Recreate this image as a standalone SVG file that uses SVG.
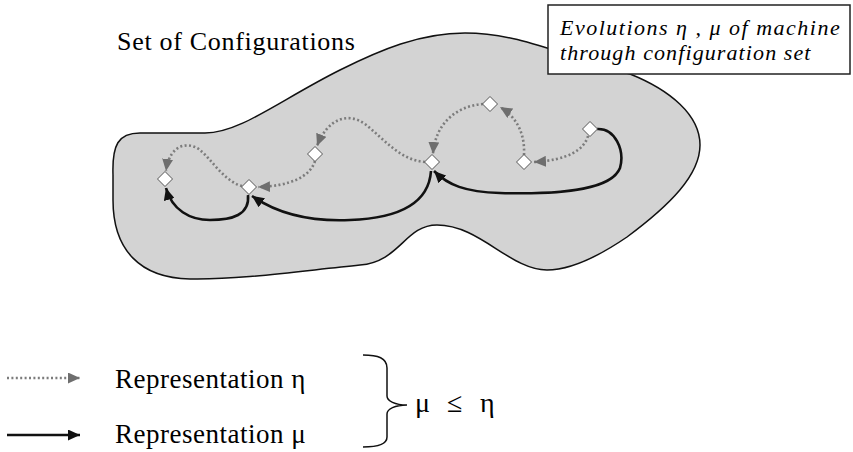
<svg xmlns="http://www.w3.org/2000/svg" width="853" height="452" viewBox="0 0 853 452">
<style>
.eta{fill:none;stroke:#7c7c7c;stroke-width:2.6;stroke-dasharray:2 2.4}
.mu{fill:none;stroke:#111;stroke-width:2.6}
.node{fill:#fff;stroke:#555;stroke-width:1}
</style>
<defs>
<marker id="ah-eta" markerUnits="userSpaceOnUse" markerWidth="13" markerHeight="11" refX="12" refY="5.5" orient="auto">
<path d="M0,0 L12,5.5 L0,11 Z" fill="#6e6e6e"/>
</marker>
<marker id="ah-mu" markerUnits="userSpaceOnUse" markerWidth="13" markerHeight="11" refX="12" refY="5.5" orient="auto">
<path d="M0,0 L12,5.5 L0,11 Z" fill="#111"/>
</marker>
</defs>
<rect width="853" height="452" fill="#fff"/>
<g id="configuration-set">
<path d="M113,175 C112,145 118,133 140,133 L205,133 C240,133 280,100 340,70 C380,50 420,33 465,33 C520,33 560,55 630,74 C670,90 700,115 700,145 C700,175 670,205 627,237 C605,252 575,270 547,270 C510,270 480,225 437,225 C405,225 400,262 360,265 C300,271 240,280 190,279 C140,278 113,250 113,200 Z" fill="#d3d3d3" stroke="#111" stroke-width="1.5"/>
</g>
<text x="117" y="50" font-size="26" font-family="Liberation Serif" letter-spacing="0.7">Set of Configurations</text>
<g id="note">
<rect x="548" y="5" width="302" height="69" fill="#fff" stroke="#222" stroke-width="1.5"/>
<text x="560" y="35" font-size="22" font-family="Liberation Serif" font-style="italic" letter-spacing="1.5">Evolutions η , μ of machine</text>
<text x="560" y="60" font-size="22" font-family="Liberation Serif" font-style="italic" letter-spacing="1.1">through configuration set</text>
</g>
<g id="connectors">
<path class="eta" d="M588,136 C584,150 568,160 534,162" marker-end="url(#ah-eta)"/>
<path class="eta" d="M524,155 C525,135 518,118 500,107" marker-end="url(#ah-eta)"/>
<path class="eta" d="M483,104 C455,106 435,125 433,154" marker-end="url(#ah-eta)"/>
<path class="eta" d="M425,162 C400,160 385,140 365,124 C348,112 328,118 317,146" marker-end="url(#ah-eta)"/>
<path class="eta" d="M315,161 C310,177 290,186 258,187" marker-end="url(#ah-eta)"/>
<path class="eta" d="M242,186 C225,182 212,160 200,150 C190,142 170,142 166,171" marker-end="url(#ah-eta)"/>
<path class="mu" d="M597,129 C615,128 625,150 620,168 C612,188 570,195 500,193 C465,192 448,185 434,171" marker-end="url(#ah-mu)"/>
<path class="mu" d="M431,171 C429,200 405,218 350,220 C305,222 275,212 252,196" marker-end="url(#ah-mu)"/>
<path class="mu" d="M248,195 C250,215 232,220 210,220 C190,220 172,210 166,188" marker-end="url(#ah-mu)"/>
</g>
<g id="node-a"><path class="node" d="M165,171.5 L172.5,179 L165,186.5 L157.5,179 Z"/></g>
<g id="node-b"><path class="node" d="M249,179.5 L256.5,187 L249,194.5 L241.5,187 Z"/></g>
<g id="node-c"><path class="node" d="M315,146.5 L322.5,154 L315,161.5 L307.5,154 Z"/></g>
<g id="node-d"><path class="node" d="M432,154.5 L439.5,162 L432,169.5 L424.5,162 Z"/></g>
<g id="node-e"><path class="node" d="M490,96.5 L497.5,104 L490,111.5 L482.5,104 Z"/></g>
<g id="node-f"><path class="node" d="M524,154.5 L531.5,162 L524,169.5 L516.5,162 Z"/></g>
<g id="node-g"><path class="node" d="M590,121.5 L597.5,129 L590,136.5 L582.5,129 Z"/></g>
<g id="legend">
<path class="eta" d="M7,378 L80,378" marker-end="url(#ah-eta)"/>
<text x="115" y="388" font-size="27" font-family="Liberation Serif" letter-spacing="0.5">Representation η</text>
<path class="mu" d="M7,435 L80,435" marker-end="url(#ah-mu)"/>
<text x="115" y="443" font-size="27" font-family="Liberation Serif" letter-spacing="0.5">Representation μ</text>
<path d="M363,355 C378,355 387,358 387,368 L387,396 C387,401 395,405 407,405 C395,405 387,409 387,414 L387,437 C387,444 378,447 363,447" fill="none" stroke="#111" stroke-width="1.5"/>
<text y="412" font-size="28" font-family="Liberation Serif"><tspan x="415">μ</tspan><tspan x="447">≤</tspan><tspan x="480">η</tspan></text>
</g>
</svg>
